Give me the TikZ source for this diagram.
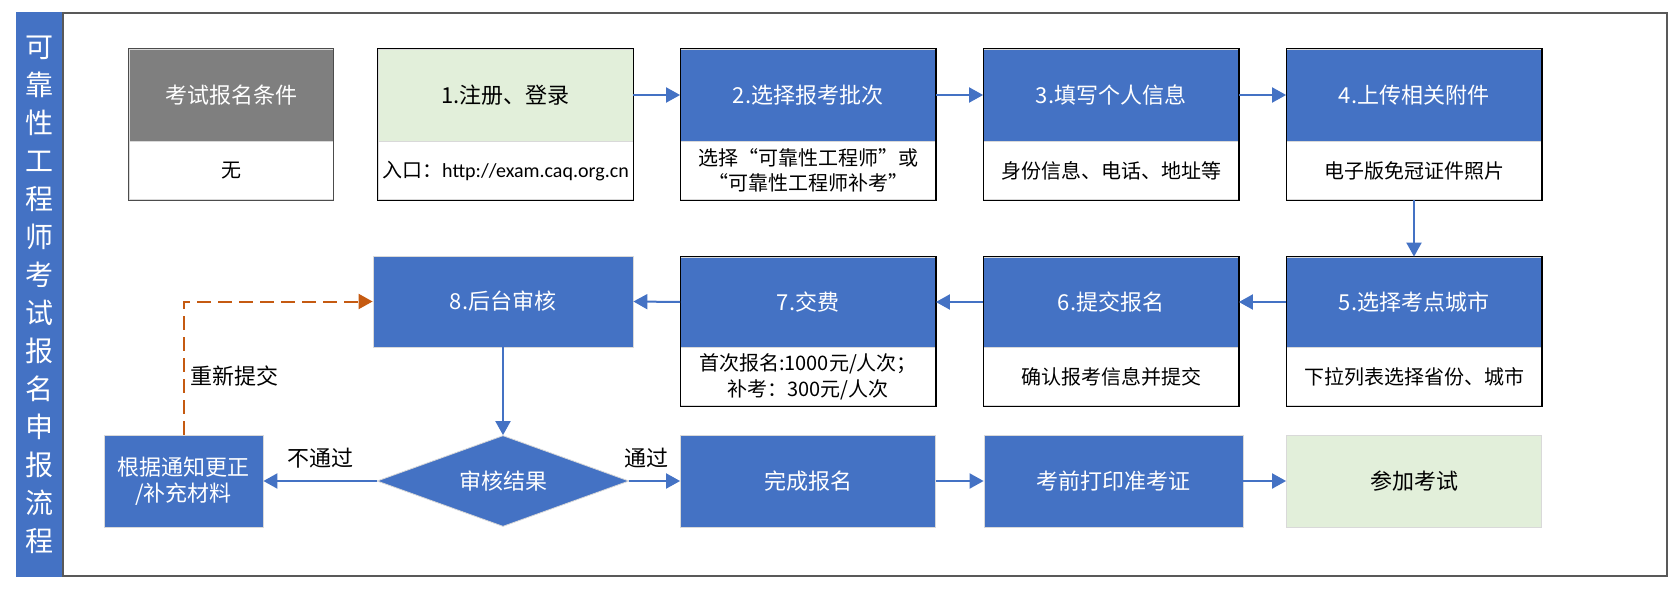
\documentclass[tikz,border=0pt]{standalone}
\usepackage{fontspec}
\setmainfont{Noto Sans CJK SC}
\newfontfamily\latin{Carlito}
\usetikzlibrary{arrows.meta,positioning,shapes.geometric}
\definecolor{stepblue}{HTML}{4472C4}
\definecolor{condgray}{HTML}{7F7F7F}
\definecolor{donegreen}{HTML}{E2EFDA}
\definecolor{redoorange}{HTML}{C55A11}

\begin{document}
\begin{tikzpicture}[x=.5pt,y=-.5pt,font=\fontsize{11pt}{13pt}\selectfont,inner sep=0pt,
  head/.style={minimum width=127.5pt,minimum height=46pt,fill=stepblue,draw=black!15,text=white,align=center},
  body/.style={minimum width=127.5pt,minimum height=29pt,fill=white,draw=black!15,align=center,font=\fontsize{10pt}{12.5pt}\selectfont},
  rim/.style={draw=black,line width=.6pt},
  flow/.style={draw=stepblue,line width=1pt,-{Triangle[length=7pt,width=7.5pt]}},
  redo/.style={draw=redoorange,line width=1pt,dash pattern=on 7pt off 3.5pt,-{Triangle[length=7pt,width=7.5pt]}},
  tag/.style={text=black}]
\useasboundingbox (0,0) rectangle (1671,589);
% side band and frame
\node[fill=stepblue,minimum width=23.5pt,minimum height=282.5pt,text=white,align=center,
  font=\fontsize{14pt}{19pt}\selectfont] (band) at (39.5,294.5)
  {可\\靠\\性\\工\\程\\师\\考\\试\\报\\名\\申\\报\\流\\程};
\draw[draw=black!65,line width=1.2pt] (63,13) rectangle (1667,576);
% first row
\node[head,fill=condgray,minimum width=102pt] (cond) at (231,95) {考试报名条件};
\node[body,minimum width=102pt,below=0pt of cond] (condsub) {无};
\node[head,fill=donegreen,text=black] (reg) at (505.5,95) {1.注册、登录};
\node[body,below=0pt of reg] (regsub) {入口：{\latin http://exam.caq.org.cn}};
\node[head] (batch) at (808,95) {2.选择报考批次};
\node[body,below=0pt of batch] (batchsub) {选择“可靠性工程师”或\\“可靠性工程师补考”};
\node[head] (info) at (1111,95) {3.填写个人信息};
\node[body,below=0pt of info] (infosub) {身份信息、电话、地址等};
\node[head] (upload) at (1414,95) {4.上传相关附件};
\node[body,below=0pt of upload] (uploadsub) {电子版免冠证件照片};
% second row
\node[head,minimum width=130pt,minimum height=45.5pt] (audit) at (503,301.5) {8.后台审核};
\node[head,minimum height=45pt] (pay) at (808,302) {7.交费};
\node[body,below=0pt of pay,font=\fontsize{10pt}{13pt}\selectfont] (paysub) {首次报名:1000元/人次；\\补考：300元/人次};
\node[head,minimum height=45pt] (submit) at (1111,302) {6.提交报名};
\node[body,below=0pt of submit] (submitsub) {确认报考信息并提交};
\node[head,minimum height=45pt] (city) at (1414,302) {5.选择考点城市};
\node[body,below=0pt of city] (citysub) {下拉列表选择省份、城市};
% third row
\node[head,minimum width=79.5pt] (fix) at (183.5,481) {根据通知更正\\/补充材料};
\node[diamond,aspect=2.8,fill=stepblue,draw=black!15,text=white,minimum width=126pt,minimum height=45.5pt] (result) at (503,481) {审核结果};
\node[head] (done) at (808,481) {完成报名};
\node[head,minimum width=129.5pt] (ticket) at (1113.5,481) {考前打印准考证};
\node[head,fill=donegreen,text=black] (exam) at (1414,481) {参加考试};
% outlines of the two-part boxes
\draw[rim,draw=black!70] (cond.north west) rectangle (condsub.south east);
\draw[rim] (reg.north west) rectangle (regsub.south east);
\draw[rim] (batch.north west) rectangle (batchsub.south east);
\draw[rim] (info.north west) rectangle (infosub.south east);
\draw[rim] (upload.north west) rectangle (uploadsub.south east);
\draw[rim] (pay.north west) rectangle (paysub.south east);
\draw[rim] (submit.north west) rectangle (submitsub.south east);
\draw[rim] (city.north west) rectangle (citysub.south east);
% connectors
\draw[flow] (reg.east) -- (batch.west);
\draw[flow] (batch.east) -- (info.west);
\draw[flow] (info.east) -- (upload.west);
\draw[flow] (uploadsub.south) -- (city.north);
\draw[flow] (city.west) -- (submit.east);
\draw[flow] (submit.west) -- (pay.east);
\draw[flow] (pay.west) -- (audit.east);
\draw[flow] (audit.south) -- (result.north);
\draw[flow] (result.west) -- node[tag,above=6pt] (fail) {不通过} (fix.east);
\draw[flow] (result.east) -- node[tag,above=6pt,pos=.33] (pass) {通过} (done.west);
\draw[flow] (done.east) -- (ticket.west);
\draw[flow] (ticket.east) -- (exam.west);
\draw[redo] (fix.north) |- node[tag,pos=.22,right=3pt] (again) {重新提交} (audit.west);
\end{tikzpicture}
\end{document}
